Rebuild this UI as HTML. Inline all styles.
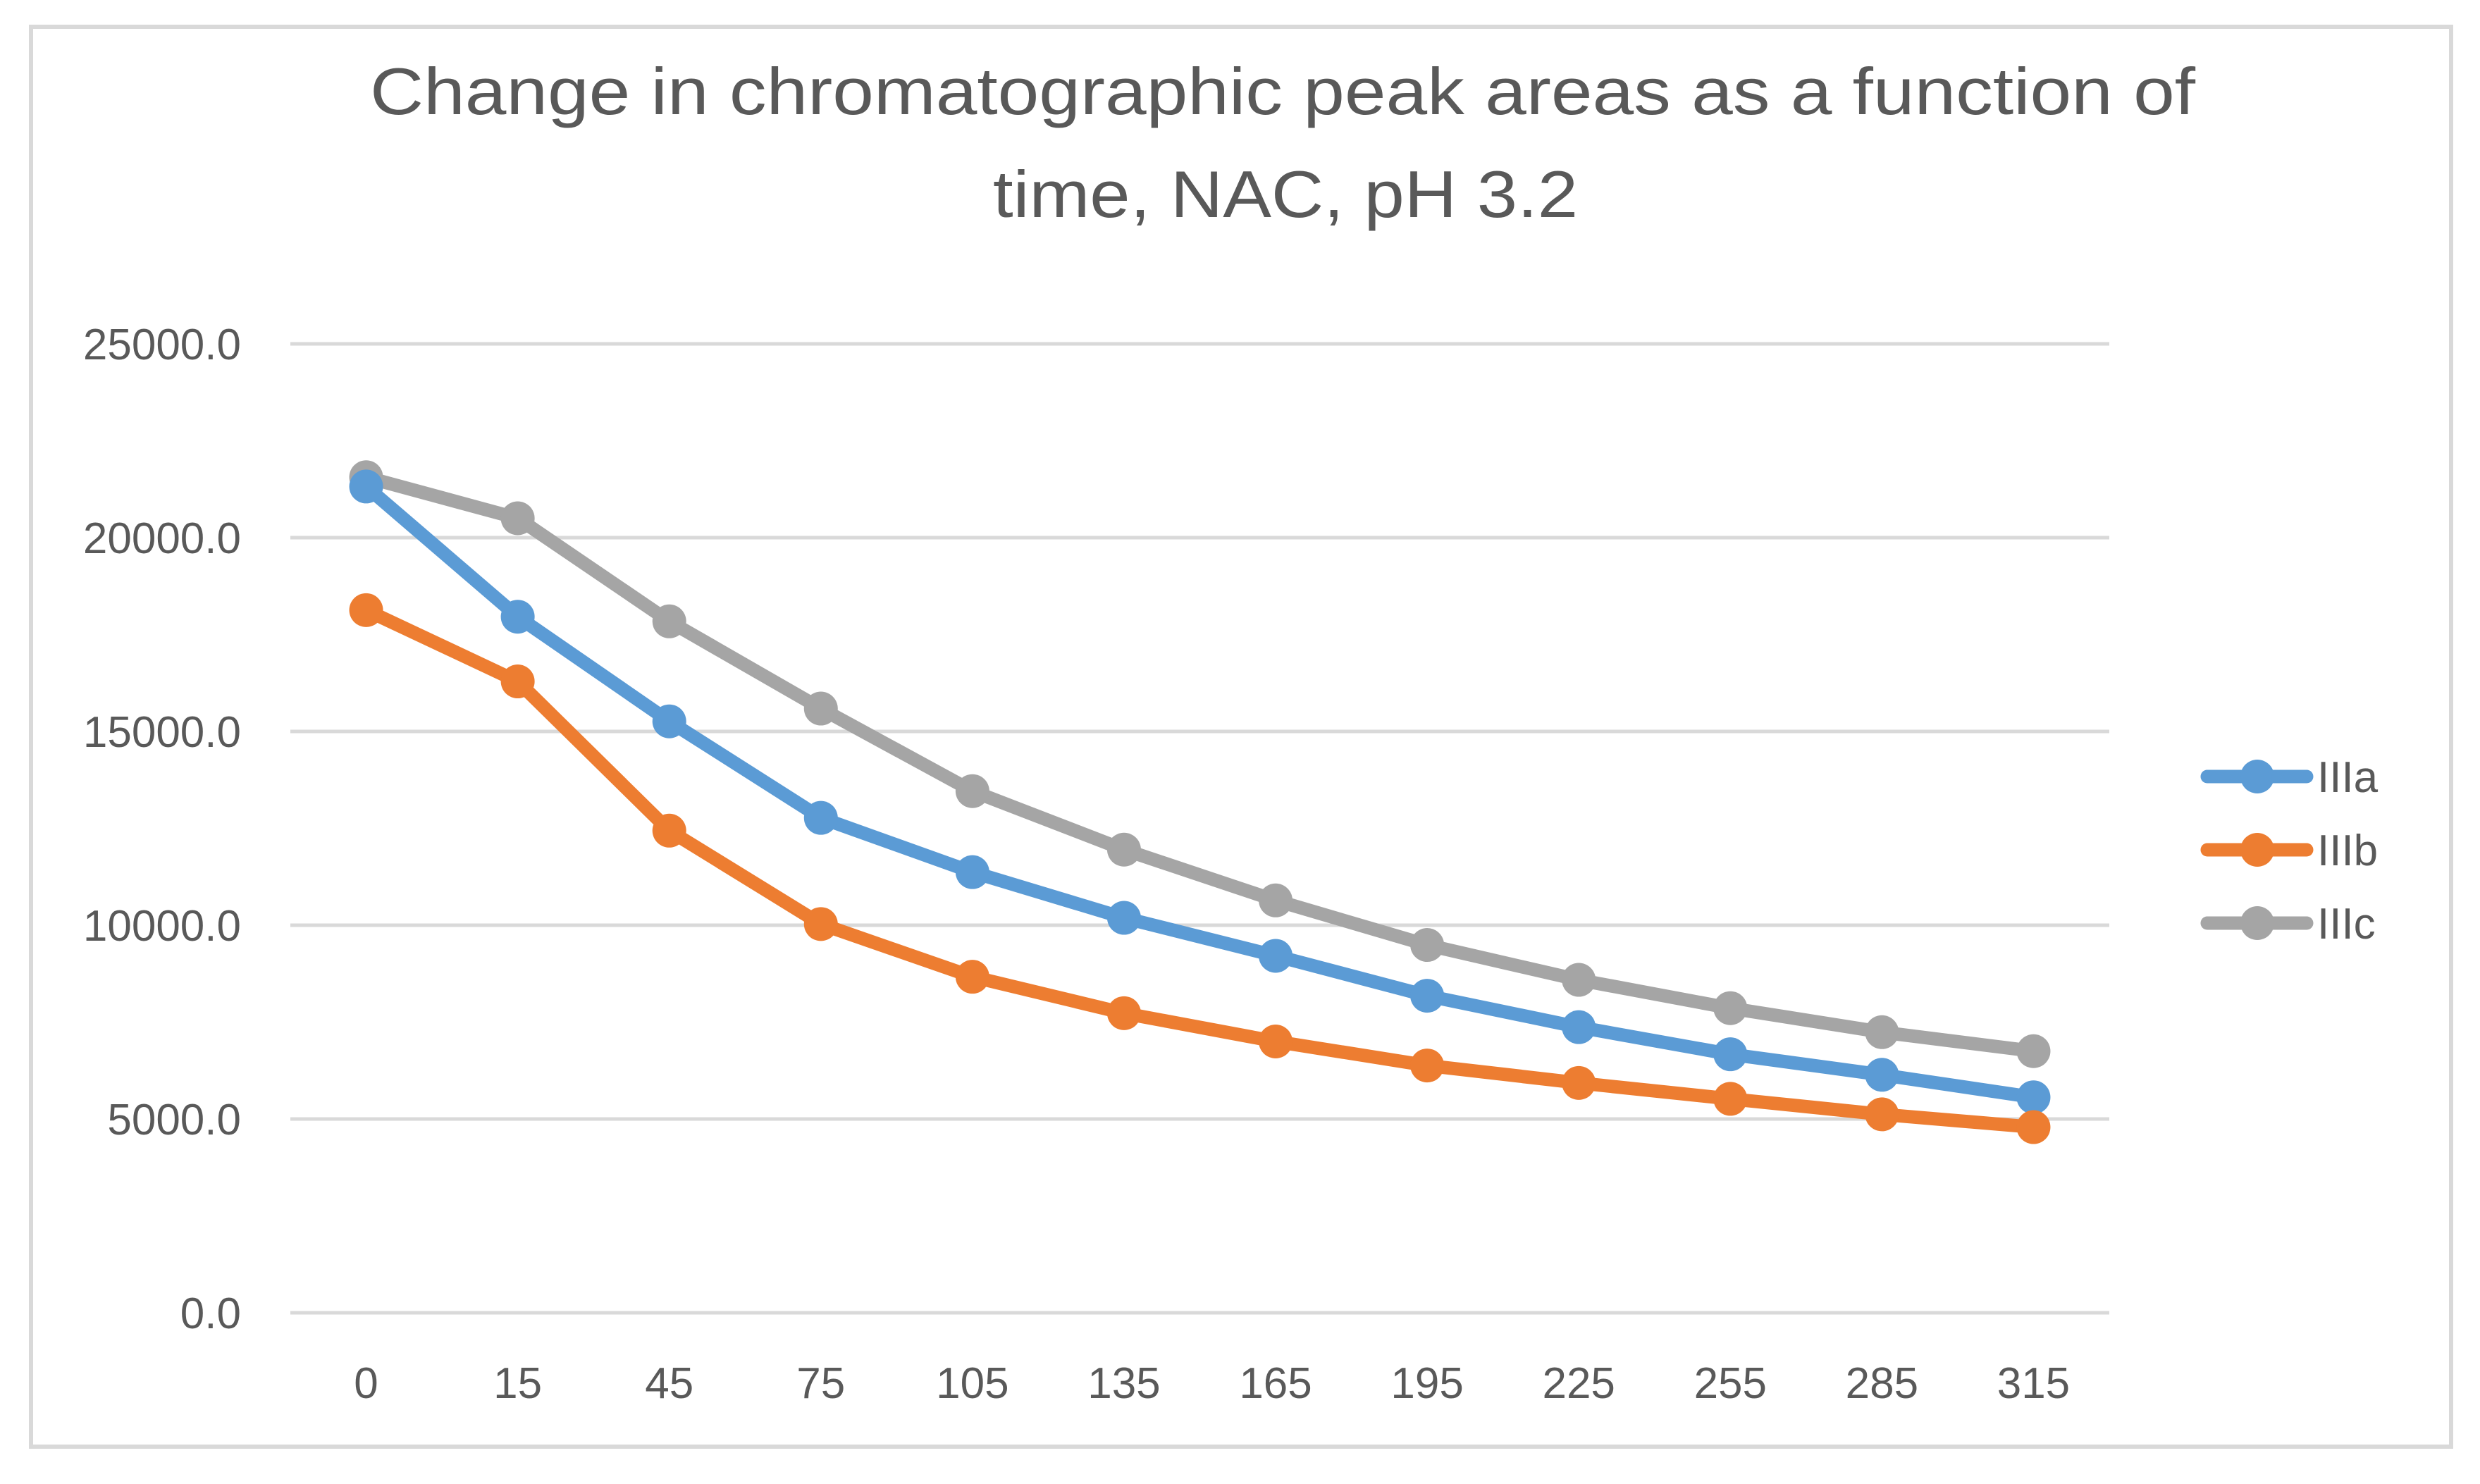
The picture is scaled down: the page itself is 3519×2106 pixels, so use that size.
<!DOCTYPE html>
<html><head><meta charset="utf-8"><style>
html,body{margin:0;padding:0;background:#fff;}
svg{display:block;font-family:"Liberation Sans",sans-serif;}
</style></head><body>
<svg id="chart" width="3519" height="2106" viewBox="0 0 3519 2106">
<rect x="44" y="38" width="3434" height="2015" fill="#fff" stroke="#d9d9d9" stroke-width="6"/>
<text x="1820" y="162" text-anchor="middle" font-size="94" fill="#595959" textLength="2590" lengthAdjust="spacingAndGlyphs">Change in chromatographic peak areas as a function of</text>
<text x="1824" y="308" text-anchor="middle" font-size="94" fill="#595959" textLength="830" lengthAdjust="spacingAndGlyphs">time, NAC, pH 3.2</text>
<g id="grid"></g><g id="yticks"></g><g id="xticks"></g><g id="series"></g><g id="legend"></g>
</svg>
<script>
const categories = ["0","15","45","75","105","135","165","195","225","255","285","315"];
const seriesNames = ["IIIa","IIIb","IIIc"];
const seriesIIIa = [21320,17960,15260,12770,11370,10190,9210,8180,7370,6670,6140,5560];
const seriesIIIb = [18130,16290,12440,10030,8670,7730,7000,6380,5930,5520,5120,4790];
const seriesIIIc = [21560,20500,17840,15590,13460,11950,10640,9490,8590,7860,7240,6750];
const yTicks = [0,5000,10000,15000,20000,25000];

const NS="http://www.w3.org/2000/svg";
const L=412,R=2993,T=488,B=1863,yMax=25000;
const band=(R-L)/categories.length;
function xPos(i){return L+band*(i+0.5);}
function yPos(v){return B-(v/yMax)*(B-T);}
function mk(tag,attrs,parent){const e=document.createElementNS(NS,tag);for(const k in attrs)e.setAttribute(k,attrs[k]);parent.appendChild(e);return e;}
const grid=document.getElementById('grid'),yt=document.getElementById('yticks'),xt=document.getElementById('xticks'),sg=document.getElementById('series'),lg=document.getElementById('legend');
yTicks.forEach(v=>{
  const l=mk('line',{x1:L,x2:R,y1:yPos(v),y2:yPos(v),stroke:'#d9d9d9','stroke-width':5},grid);
  
  
  const t=mk('text',{x:342,y:yPos(v)+22,'text-anchor':'end','font-size':62,fill:'#595959'},yt);
  t.textContent=v.toFixed(1);
  
  
});
categories.forEach((c,i)=>{
  const t=mk('text',{x:xPos(i),y:1984,'text-anchor':'middle','font-size':62,fill:'#595959'},xt);
  t.textContent=c;
  
  
});
const colors=['#5b9bd5','#ed7d31','#a5a5a5'];
const data=[seriesIIIa,seriesIIIb,seriesIIIc];
[2,0,1].forEach(s=>{
  const g=mk('g',{},sg);
  
  
  const pts=data[s].map((v,i)=>xPos(i)+','+yPos(v)).join(' ');
  const pl=mk('polyline',{points:pts,fill:'none',stroke:colors[s],'stroke-width':19,'stroke-linejoin':'round','stroke-linecap':'round'},g);
  
  
  data[s].forEach((v,i)=>{
    const c=mk('circle',{cx:xPos(i),cy:yPos(v),r:24,fill:colors[s]},g);
    
    
  });
});
seriesNames.forEach((n,s)=>{
  const y=1102+s*104;
  const g=mk('g',{},lg);
  
  
  mk('line',{x1:3132,x2:3273,y1:y,y2:y,stroke:colors[s],'stroke-width':19,'stroke-linecap':'round'},g);
  mk('circle',{cx:3203,cy:y,r:24,fill:colors[s]},g);
  const t=mk('text',{x:3288,y:y+22,'font-size':62,fill:'#595959'},g);
  t.textContent=n;
});
</script>
</body></html>
